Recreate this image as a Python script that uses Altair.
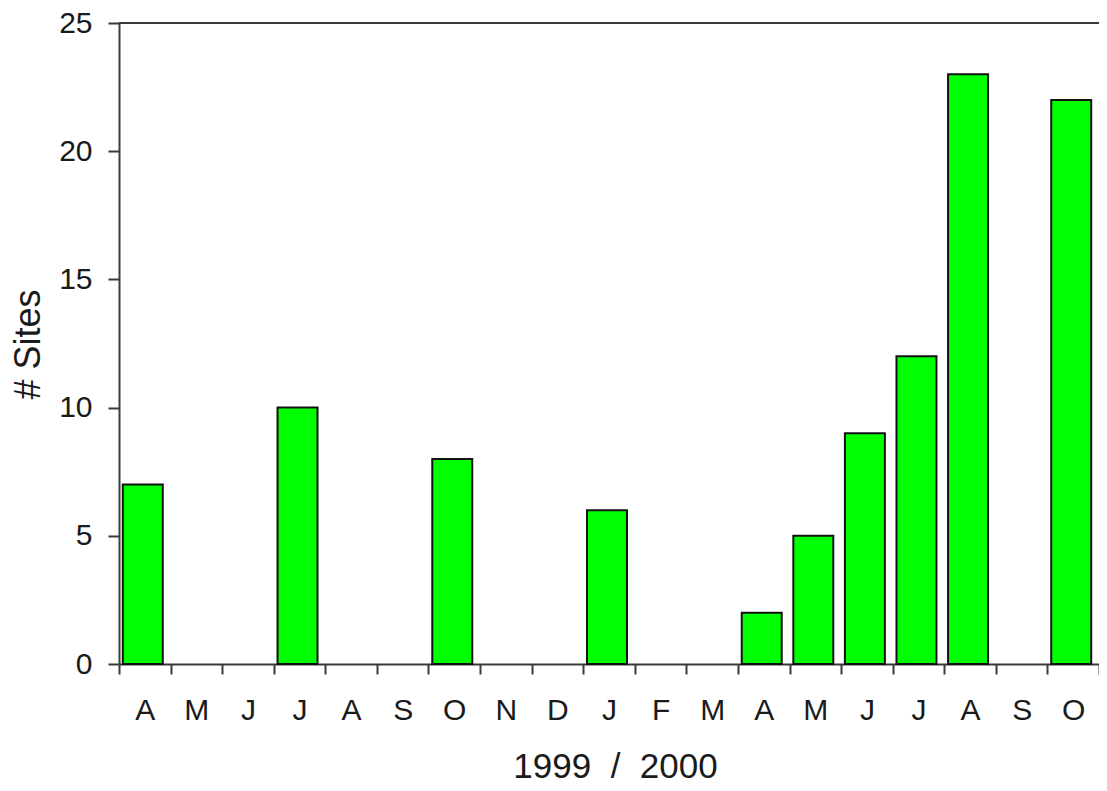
import json
import altair as alt
import pandas as pd

# Months April 1999 .. October 2000
month_keys = ["1999-04", "1999-05", "1999-06", "1999-07", "1999-08", "1999-09",
              "1999-10", "1999-11", "1999-12", "2000-01", "2000-02", "2000-03",
              "2000-04", "2000-05", "2000-06", "2000-07", "2000-08", "2000-09",
              "2000-10"]
month_labels = ["A", "M", "J", "J", "A", "S", "O", "N", "D", "J", "F", "M",
                "A", "M", "J", "J", "A", "S", "O"]
sites = [7, 0, 0, 10, 0, 0, 8, 0, 0, 6, 0, 0, 2, 5, 9, 12, 23, 0, 22]
x_title = "1999\u00a0\u00a0/\u00a0\u00a02000"

df = pd.DataFrame({"month": month_keys, "sites": sites})

FONT = "Liberation Sans"
AXIS_COLOR = "#3a3a3a"
label_expr = f"{json.dumps(month_labels)}[indexof({json.dumps(month_keys)}, datum.value)]"

x_enc = alt.X(
    "month:N",
    sort=month_keys,
    scale=alt.Scale(domain=month_keys, paddingInner=0, paddingOuter=0),
    axis=alt.Axis(
        title=x_title,
        titleFont=FONT, titleFontSize=35, titleFontWeight="normal", titleColor="#1a1a1a",
        titleX=496, titleY=102, titleAlign="center", titleBaseline="middle",
        labelExpr=label_expr, labelAngle=0,
        labelFont=FONT, labelFontSize=30, labelColor="#1a1a1a",
        labelPadding=36, labelBaseline="middle",
        tickBand="extent", tickSize=10, tickWidth=2, tickColor=AXIS_COLOR,
        domainColor=AXIS_COLOR, domainWidth=2,
        grid=False,
    ),
)

y_enc = alt.Y(
    "sites:Q",
    scale=alt.Scale(domain=[0, 25], nice=False),
    axis=alt.Axis(
        title="# Sites",
        titleFont=FONT, titleFontSize=36, titleFontWeight="normal", titleColor="#1a1a1a",
        titleX=-91, titleY=321, titleAngle=-90, titleAlign="center", titleBaseline="middle",
        values=[0, 5, 10, 15, 20, 25],
        labelFont=FONT, labelFontSize=30, labelColor="#1a1a1a", labelPadding=16,
        tickSize=11, tickWidth=2, tickColor=AXIS_COLOR,
        domainColor=AXIS_COLOR, domainWidth=2,
        grid=False,
    ),
)

bars = (
    alt.Chart(df)
    .transform_filter("datum.sites > 0")
    .mark_bar(color="#00FF00", stroke="#111111", strokeWidth=2,
              width={"band": 40 / 51.6}, xOffset=-2)
    .encode(x=x_enc, y=y_enc)
)

top_line = (
    alt.Chart(df)
    .mark_rule(color=AXIS_COLOR, strokeWidth=2)
    .encode(y=alt.value(0))
)

chart = (
    alt.layer(bars, top_line)
    .properties(
        width=980,
        height=641,
        autosize=alt.AutoSizeParams(type="none"),
        padding={"left": 111, "top": 15, "right": 0, "bottom": 118},
    )
    .configure_view(stroke=None)
    .configure(background="white")
)

chart.save("out.html", embed_options={"renderer": "svg", "actions": False})
